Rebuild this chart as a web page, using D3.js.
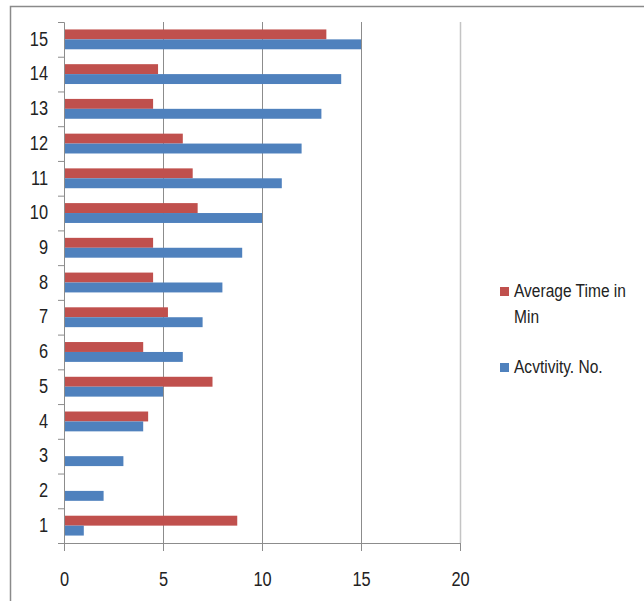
<!DOCTYPE html>
<html>
<head>
<meta charset="utf-8">
<script src="https://cdn.jsdelivr.net/npm/d3@7"></script>
<style>
  body { margin: 0; background: #fff; }
  svg text { font-family: "Liberation Sans Narrow", "Liberation Sans", sans-serif; fill: #222; }
</style>
</head>
<body>
<svg id="chart"></svg>
<script>
// Data
const categories = ["1","2","3","4","5","6","7","8","9","10","11","12","13","14","15"];
const avgTime = [8.75, 0, 0, 4.25, 7.5, 4, 5.25, 4.5, 4.5, 6.75, 6.5, 6, 4.5, 4.75, 13.25];
const activityNo = [1, 2, 3, 4, 5, 6, 7, 8, 9, 10, 11, 12, 13, 14, 15];
const xTicks = [0, 5, 10, 15, 20];
const seriesNames = ["Average Time in Min", "Acvtivity. No."];
const seriesColors = ["#C0504D", "#4F81BD"];

const width = 644, height = 601;
const margin = {top: 22, right: 184, bottom: 58, left: 64};
const innerW = width - margin.left - margin.right;
const innerH = height - margin.top - margin.bottom;
// the reference text is narrow (Calibri-like), squeeze it horizontally
const squeeze = "scale(0.84,1)";

const svg = d3.select("#chart")
    .attr("width", width)
    .attr("height", height);

// outer chart frame (only top and left edges visible)
svg.append("path")
    .attr("d", `M10.5,${height} V6.5 H${width}`)
    .attr("fill", "none")
    .attr("stroke", "#8a8a8a")
    .attr("stroke-width", 1.5);

const chart = svg.append("g")
    .attr("transform", `translate(${margin.left},${margin.top})`);

const xScale = d3.scaleLinear()
    .domain([0, 20])
    .range([0, innerW]);

// categories from bottom (1) to top (15)
const yBand = d3.scaleBand()
    .domain(categories.slice().reverse())
    .range([0, innerH])
    .paddingInner(0.4286)
    .paddingOuter(0.2143);

const ySub = d3.scaleBand()
    .domain([0, 1])
    .range([0, yBand.bandwidth()]);

// gridlines
chart.append("g")
    .selectAll("line")
    .data(xTicks.filter(d => d > 0))
    .join("line")
    .attr("x1", d => xScale(d) + 0.5)
    .attr("x2", d => xScale(d) + 0.5)
    .attr("y1", 0)
    .attr("y2", innerH)
    .attr("stroke", d => d === 20 ? "#c4c4c4" : "#8c8c8c")
    .attr("stroke-width", d => d === 20 ? 1.5 : 1);

// bars
const rows = categories.map((c, i) => ({cat: c, vals: [avgTime[i], activityNo[i]]}));
const groups = chart.append("g")
    .selectAll("g")
    .data(rows)
    .join("g")
    .attr("transform", d => `translate(0,${yBand(d.cat)})`);

groups.selectAll("rect")
    .data(d => d.vals.map((v, k) => ({v, k})))
    .join("rect")
    .attr("x", 0)
    .attr("y", d => ySub(d.k))
    .attr("width", d => xScale(d.v))
    .attr("height", ySub.bandwidth())
    .attr("fill", d => seriesColors[d.k]);

// y axis: ticks at category boundaries, labels at centres
const yEdge = d3.scaleLinear().domain([0, 15]).range([innerH, 0]);
chart.append("g")
    .call(d3.axisLeft(yEdge).ticks(15).tickSize(6).tickFormat(""))
    .call(g => g.selectAll("line, path").attr("stroke", "#8c8c8c"))
    .call(g => g.select(".domain").attr("d", `M-6,0.5H0.5V${innerH}`));

chart.append("g")
    .call(d3.axisLeft(yBand).tickSize(0).tickPadding(19))
    .call(g => g.select(".domain").remove())
    .call(g => g.selectAll("text")
        .attr("font-size", 19.5)
        .attr("transform", squeeze)
        .style("fill", "#222"));

// x axis
chart.append("g")
    .attr("transform", `translate(0,${innerH})`)
    .call(d3.axisBottom(xScale).tickValues(xTicks).tickSize(8).tickPadding(35).tickSizeOuter(0))
    .call(g => g.selectAll("line, path").attr("stroke", "#8c8c8c"))
    .call(g => g.selectAll("text")
        .attr("font-size", 19.5)
        .attr("dy", "0")
        .attr("transform", squeeze)
        .style("fill", "#222"));

// legend
const legend = svg.append("g")
    .attr("transform", "translate(500,0)");
const legendItems = [
  {lines: ["Average Time in", "Min"], y: 297, color: seriesColors[0]},
  {lines: [seriesNames[1]], y: 373, color: seriesColors[1]}
];
legendItems.forEach(item => {
  legend.append("rect")
      .attr("x", 0)
      .attr("y", item.y - 10)
      .attr("width", 9)
      .attr("height", 9)
      .attr("fill", item.color);
  const t = legend.append("g")
      .attr("transform", `translate(14,${item.y}) ${squeeze}`)
    .append("text")
      .attr("font-size", 18.5);
  item.lines.forEach((ln, j) => {
    t.append("tspan")
        .attr("x", 0)
        .attr("dy", j === 0 ? 0 : 26)
        .text(ln);
  });
});
</script>
</body>
</html>
